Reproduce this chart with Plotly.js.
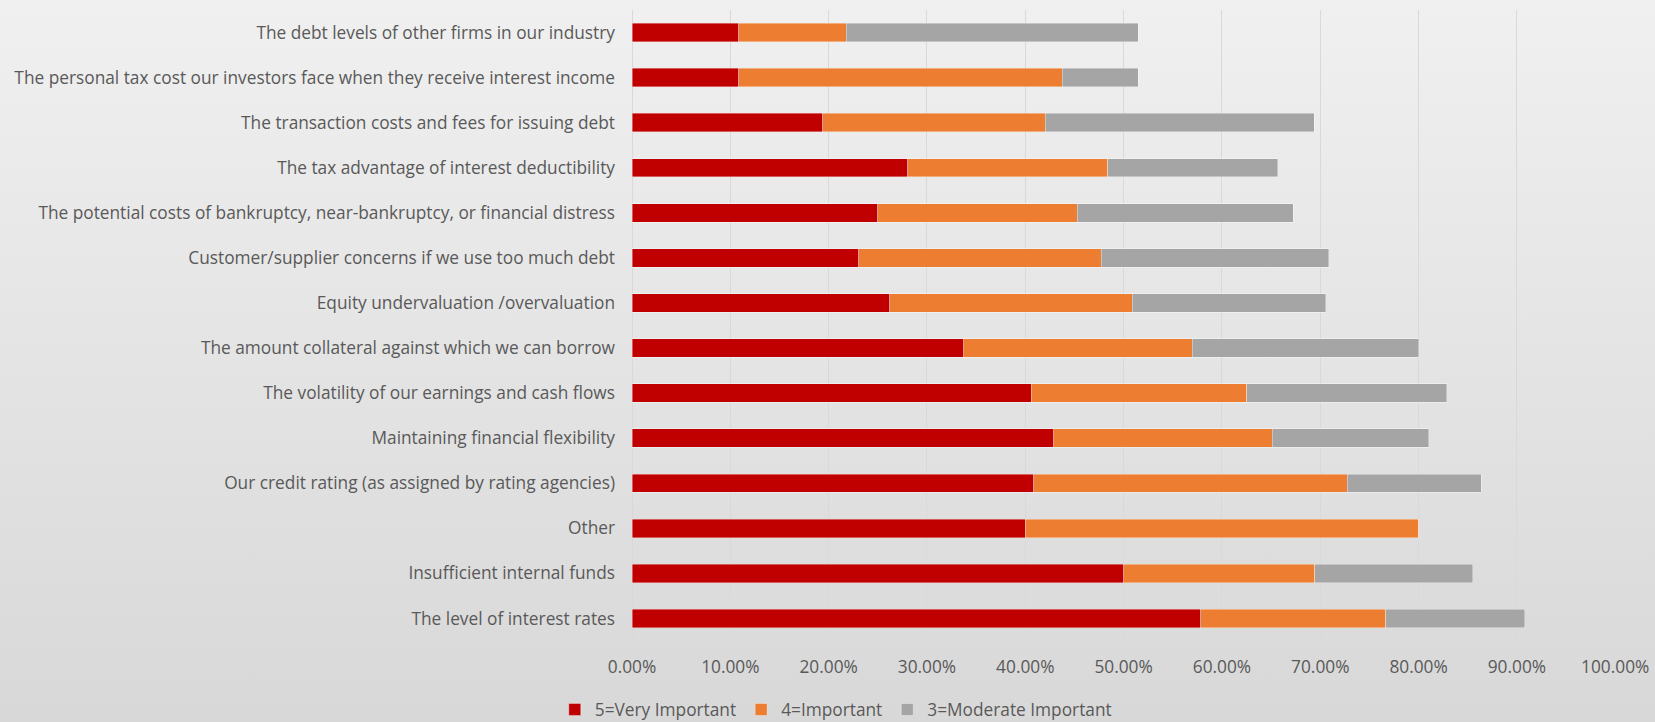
<!DOCTYPE html>
<html>
<head>
<meta charset="utf-8">
<script src="https://cdn.plot.ly/plotly-3.0.1.min.js"></script>
<style>
  html, body { margin: 0; padding: 0; }
  body { width: 1655px; height: 722px; background: linear-gradient(to bottom, #F0F0F0 0%, #D8D8D8 100%); }
  #chart { width: 1655px; height: 722px; }
</style>
</head>
<body>
<div id="chart"></div>
<script>
// Categories, top to bottom as shown
const categories = [
  "The debt levels of other firms in our industry",
  "The personal tax cost our investors face when they receive interest income",
  "The transaction costs and fees for issuing debt",
  "The tax advantage of interest deductibility",
  "The potential costs of bankruptcy, near-bankruptcy, or financial distress",
  "Customer/supplier concerns if we use too much debt",
  "Equity undervaluation /overvaluation",
  "The amount collateral against which we can borrow",
  "The volatility of our earnings and cash flows",
  "Maintaining financial flexibility",
  "Our credit rating (as assigned by rating agencies)",
  "Other",
  "Insufficient internal funds",
  "The level of interest rates"
];

const seriesNames = ["5=Very Important", "4=Important", "3=Moderate Important"];

// Shares (fraction of respondents)
const veryImportant = [0.1087, 0.1087, 0.1940, 0.2806, 0.2500, 0.2307, 0.2620, 0.3375, 0.4059, 0.4291, 0.4087, 0.4000, 0.5000, 0.5786];
const important     = [0.1093, 0.3288, 0.2265, 0.2034, 0.2027, 0.2467, 0.2466, 0.2321, 0.2195, 0.2219, 0.3187, 0.4000, 0.1944, 0.1880];
const moderate      = [0.2970, 0.0775, 0.2735, 0.1730, 0.2199, 0.2312, 0.1971, 0.2308, 0.2031, 0.1595, 0.1364, 0.0000, 0.1609, 0.1415];

const xTickVals = [0, 0.1, 0.2, 0.3, 0.4, 0.5, 0.6, 0.7, 0.8, 0.9, 1.0];

const colors = ["#C00000", "#ED7D31", "#A5A5A5"];
const values = [veryImportant, important, moderate];

const traces = values.map((v, i) => ({
  type: "bar",
  orientation: "h",
  name: seriesNames[i],
  y: categories,
  x: v,
  marker: { color: colors[i], line: { color: "rgba(255,255,255,0.45)", width: 0.8 } },
  hoverinfo: "x+y+name"
}));

const font = { family: "Open Sans, sans-serif", size: 17.3, color: "#595959" };

const layout = {
  width: 1655,
  height: 722,
  barmode: "stack",
  bargap: 0.59,
  paper_bgcolor: "rgba(0,0,0,0)",
  plot_bgcolor: "rgba(0,0,0,0)",
  margin: { l: 632, r: 39, t: 10, b: 81, pad: 0 },
  font: font,
  showlegend: true,
  legend: {
    orientation: "h",
    xref: "container", yref: "container",
    x: 0.505, xanchor: "center",
    y: 0.017, yanchor: "middle",
    font: font,
    traceorder: "normal",
    itemwidth: 30,
    bgcolor: "rgba(0,0,0,0)"
  },
  xaxis: {
    range: [0, 1.0008],
    tickvals: xTickVals,
    tickformat: ".2%",
    showgrid: true,
    gridcolor: "#D9D9D9",
    gridwidth: 1,
    zeroline: true,
    zerolinecolor: "#D9D9D9",
    zerolinewidth: 1,
    showline: false,
    ticks: "",
    ticklabelstandoff: 14,
    tickfont: font,
    fixedrange: true
  },
  yaxis: {
    type: "category",
    autorange: "reversed",
    showgrid: false,
    zeroline: false,
    showline: false,
    ticks: "",
    ticklabelstandoff: 16,
    tickfont: font,
    fixedrange: true
  }
};

Plotly.newPlot("chart", traces, layout, { displayModeBar: false, staticPlot: true });
</script>
</body>
</html>
